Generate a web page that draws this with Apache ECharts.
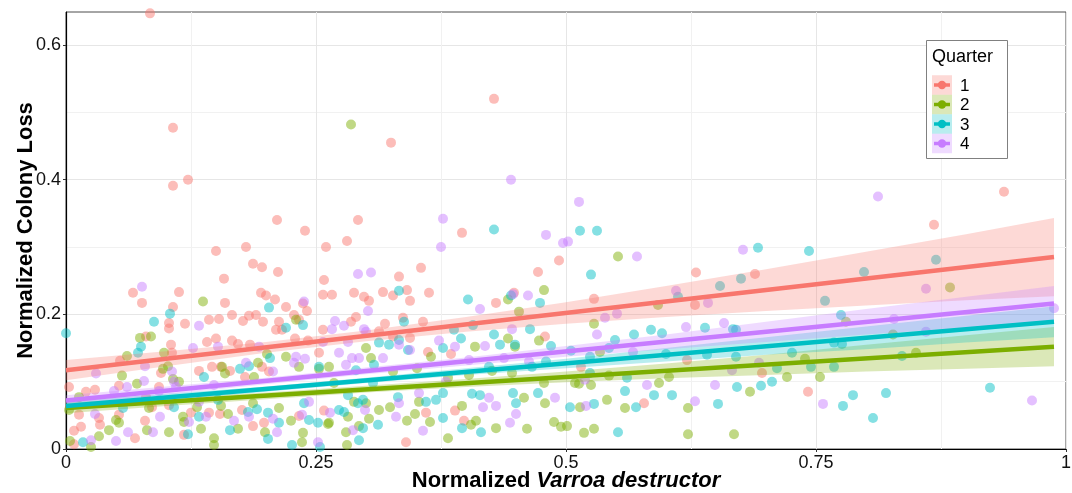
<!DOCTYPE html>
<html><head><meta charset="utf-8">
<script src="https://cdn.jsdelivr.net/npm/echarts@6/dist/echarts.min.js"></script>
<style>html,body{margin:0;padding:0;background:#fff}#c{width:1072px;height:493px}</style>
</head><body><div id="c"></div>
<script>
const quarters = ['1','2','3','4'];
const colors = ['#F8766D','#7CAE00','#00BFC4','#C77CFF'];
const xTicks = [0, 0.25, 0.5, 0.75, 1];
const yTicks = [0, 0.2, 0.4, 0.6];

const q1Points = [[0.084,0.647],[0.107,0.477],[0.107,0.391],[0.122,0.400],[0.211,0.340],[0.239,0.324],[0.292,0.340],[0.325,0.455],[0.428,0.520],[0.938,0.382],[0.868,0.333],[0.689,0.260],[0.630,0.262],[0.528,0.223],[0.629,0.214],[0.621,0.132],[0.578,0.068],[0.742,0.085],[0.696,0.113],[0.515,0.122],
[0.150,0.294],[0.180,0.300],[0.187,0.275],[0.196,0.270],[0.212,0.263],[0.158,0.253],[0.113,0.233],[0.067,0.232],[0.076,0.217],[0.195,0.232],[0.200,0.228],[0.209,0.222],[0.159,0.217],[0.107,0.211],[0.220,0.211],[0.237,0.216],[0.241,0.205],[0.183,0.198],[0.190,0.199],[0.166,0.199],[0.177,0.190],[0.197,0.189],[0.213,0.189],[0.228,0.199],[0.233,0.192],[0.143,0.192],[0.153,0.193],[0.119,0.186],[0.103,0.187],[0.103,0.179],[0.080,0.167],[0.210,0.177],[0.105,0.155],[0.150,0.164],[0.141,0.159],[0.166,0.161],[0.172,0.156],[0.184,0.155],[0.229,0.164],[0.242,0.161],[0.106,0.143],[0.054,0.131],[0.133,0.116],[0.146,0.122],[0.155,0.122],[0.095,0.113],[0.164,0.116],[0.179,0.107],[0.196,0.122],[0.203,0.115],[0.003,0.092],[0.020,0.085],[0.029,0.088],[0.093,0.092],[0.053,0.094],[0.080,0.077],[0.086,0.062],[0.103,0.065],[0.013,0.051],[0.033,0.046],[0.008,0.027],[0.015,0.033],[0.034,0.036],[0.079,0.042],[0.125,0.054],[0.118,0.021],[0.069,0.016],[0.008,0.007],[0.143,0.054],[0.154,0.052],[0.176,0.058],[0.187,0.034],[0.198,0.039],[0.233,0.049],[0.053,0.051],[0.216,0.177],
[0.260,0.300],[0.281,0.309],[0.396,0.321],[0.355,0.269],[0.333,0.256],[0.258,0.251],[0.257,0.229],[0.266,0.229],[0.288,0.232],[0.298,0.226],[0.303,0.220],[0.317,0.233],[0.327,0.228],[0.341,0.236],[0.344,0.220],[0.363,0.232],[0.290,0.196],[0.285,0.189],[0.257,0.177],[0.319,0.186],[0.337,0.195],[0.357,0.189],[0.327,0.167],[0.313,0.175],[0.344,0.165],[0.362,0.144],[0.385,0.141],[0.472,0.263],[0.493,0.280],[0.479,0.167],[0.430,0.217],[0.448,0.232],[0.258,0.057],[0.360,0.054],[0.389,0.057],[0.398,0.042],[0.340,0.010],[0.253,0.143]];

const q2Points = [[0.285,0.482],[0.884,0.240],[0.668,0.022],[0.684,0.085],[0.721,0.107],[0.754,0.107],[0.552,0.286],[0.592,0.214],[0.528,0.186],[0.534,0.144],[0.509,0.098],[0.543,0.109],[0.514,0.062],[0.541,0.073],[0.501,0.034],[0.518,0.024],[0.528,0.030],[0.622,0.022],[0.780,0.189],[0.827,0.170],[0.739,0.134],[0.850,0.143],[0.513,0.097],[0.525,0.095],[0.559,0.061],[0.593,0.098],[0.622,0.061],[0.603,0.107],
[0.137,0.219],[0.074,0.165],[0.085,0.167],[0.061,0.138],[0.098,0.143],[0.056,0.109],[0.071,0.097],[0.097,0.119],[0.107,0.104],[0.113,0.100],[0.102,0.123],[0.156,0.122],[0.159,0.112],[0.188,0.107],[0.192,0.128],[0.201,0.141],[0.220,0.137],[0.230,0.192],[0.050,0.043],[0.043,0.028],[0.033,0.019],[0.053,0.039],[0.004,0.012],[0.025,0.003],[0.081,0.028],[0.103,0.025],[0.117,0.048],[0.135,0.030],[0.148,0.016],[0.148,0.006],[0.172,0.030],[0.162,0.052],[0.199,0.025],[0.225,0.042],[0.236,0.010],[0.155,0.064],[0.187,0.068],[0.213,0.061],[0.131,0.062],[0.003,0.058],[0.013,0.077],[0.083,0.061],[0.118,0.040],[0.237,0.024],[0.233,0.122],
[0.478,0.236],[0.453,0.204],[0.442,0.222],[0.300,0.150],[0.305,0.135],[0.365,0.137],[0.409,0.152],[0.442,0.164],[0.473,0.161],[0.263,0.122],[0.351,0.120],[0.403,0.110],[0.426,0.116],[0.446,0.113],[0.478,0.098],[0.288,0.070],[0.300,0.068],[0.353,0.070],[0.396,0.064],[0.262,0.037],[0.282,0.048],[0.293,0.034],[0.303,0.045],[0.313,0.058],[0.324,0.062],[0.341,0.042],[0.349,0.052],[0.364,0.040],[0.382,0.016],[0.280,0.025],[0.281,0.006],[0.405,0.036],[0.430,0.031],[0.461,0.030],[0.488,0.040],[0.495,0.033],[0.458,0.076],[0.479,0.068],[0.449,0.152],[0.253,0.119],[0.327,0.115],[0.268,0.098],[0.382,0.106],[0.410,0.042],[0.263,0.039]];

const q3Points = [[0.000,0.172],[0.428,0.326],[0.514,0.324],[0.531,0.324],[0.692,0.299],[0.743,0.294],[0.870,0.281],[0.798,0.263],[0.759,0.220],[0.675,0.253],[0.924,0.091],[0.807,0.046],[0.777,0.064],[0.787,0.080],[0.820,0.083],[0.671,0.092],[0.695,0.094],[0.706,0.100],[0.726,0.143],[0.711,0.120],[0.745,0.122],[0.768,0.122],[0.836,0.138],[0.776,0.156],[0.667,0.178],[0.775,0.199],[0.670,0.177],[0.768,0.158],
[0.525,0.259],[0.654,0.242],[0.612,0.226],[0.549,0.162],[0.568,0.170],[0.585,0.177],[0.596,0.172],[0.639,0.180],[0.505,0.146],[0.524,0.137],[0.543,0.150],[0.600,0.141],[0.641,0.140],[0.670,0.137],[0.524,0.113],[0.561,0.106],[0.504,0.062],[0.528,0.067],[0.559,0.086],[0.570,0.062],[0.588,0.080],[0.606,0.080],[0.552,0.025],[0.652,0.067],
[0.088,0.189],[0.104,0.201],[0.203,0.210],[0.237,0.184],[0.220,0.180],[0.075,0.152],[0.072,0.143],[0.138,0.107],[0.183,0.123],[0.204,0.135],[0.057,0.061],[0.017,0.010],[0.133,0.048],[0.122,0.022],[0.164,0.028],[0.182,0.055],[0.191,0.059],[0.202,0.054],[0.213,0.039],[0.202,0.015],[0.226,0.006],[0.243,0.043],[0.152,0.073],[0.108,0.062],[0.238,0.068],[0.174,0.119],
[0.333,0.235],[0.402,0.222],[0.445,0.228],[0.474,0.217],[0.464,0.178],[0.428,0.170],[0.395,0.164],[0.388,0.177],[0.338,0.189],[0.377,0.150],[0.342,0.147],[0.313,0.158],[0.434,0.155],[0.485,0.153],[0.253,0.122],[0.308,0.125],[0.423,0.122],[0.480,0.130],[0.282,0.080],[0.332,0.077],[0.360,0.070],[0.377,0.083],[0.406,0.082],[0.414,0.080],[0.447,0.083],[0.472,0.083],[0.450,0.068],[0.273,0.058],[0.278,0.055],[0.292,0.068],[0.312,0.036],[0.297,0.031],[0.293,0.013],[0.377,0.046],[0.396,0.031],[0.415,0.025],[0.254,0.003],[0.252,0.039],[0.333,0.162],[0.323,0.155],[0.449,0.155],[0.290,0.117],[0.466,0.122],[0.307,0.098],[0.297,0.073],[0.370,0.073],[0.407,0.184]];

const q4Points = [[0.445,0.400],[0.513,0.367],[0.377,0.342],[0.812,0.375],[0.677,0.296],[0.860,0.238],[0.988,0.209],[0.966,0.072],[0.757,0.067],[0.480,0.318],[0.502,0.308],[0.571,0.286],[0.610,0.235],[0.642,0.217],[0.539,0.195],[0.551,0.201],[0.531,0.170],[0.620,0.181],[0.567,0.144],[0.519,0.103],[0.581,0.095],[0.629,0.071],[0.649,0.095],[0.658,0.187],[0.828,0.193],[0.860,0.174],[0.693,0.128],[0.666,0.117],[0.520,0.064],
[0.076,0.241],[0.133,0.183],[0.127,0.150],[0.152,0.152],[0.079,0.123],[0.030,0.112],[0.106,0.115],[0.078,0.101],[0.061,0.092],[0.048,0.086],[0.093,0.086],[0.108,0.100],[0.180,0.128],[0.193,0.152],[0.238,0.219],[0.230,0.137],[0.239,0.134],[0.207,0.115],[0.133,0.070],[0.148,0.095],[0.168,0.042],[0.183,0.048],[0.207,0.045],[0.236,0.051],[0.243,0.070],[0.029,0.052],[0.062,0.025],[0.050,0.012],[0.025,0.013],[0.123,0.040],[0.094,0.048],[0.087,0.025],[0.211,0.025],[0.140,0.048],[0.110,0.092],[0.228,0.128],
[0.375,0.300],[0.292,0.260],[0.305,0.262],[0.302,0.205],[0.269,0.190],[0.266,0.178],[0.278,0.183],[0.298,0.178],[0.257,0.159],[0.282,0.159],[0.273,0.143],[0.286,0.135],[0.293,0.135],[0.317,0.135],[0.333,0.155],[0.373,0.161],[0.389,0.152],[0.403,0.132],[0.414,0.208],[0.419,0.153],[0.447,0.230],[0.462,0.228],[0.446,0.178],[0.438,0.135],[0.463,0.130],[0.489,0.076],[0.430,0.064],[0.417,0.062],[0.450,0.052],[0.444,0.039],[0.357,0.027],[0.330,0.048],[0.353,0.083],[0.264,0.054],[0.299,0.058],[0.287,0.028],[0.252,0.010],[0.497,0.306],[0.300,0.174],[0.280,0.125],[0.344,0.147],[0.423,0.076],[0.333,0.068],[0.380,0.100]];

// fitted lines: [x0, y0, x1, y1]
const fitQ1 = [0, 0.117, 0.988, 0.285];
const fitQ2 = [0, 0.061, 0.988, 0.152];
const fitQ3 = [0, 0.064, 0.988, 0.189];
const fitQ4 = [0, 0.072, 0.988, 0.216];

// confidence bands
const bandX = [0, 0.1, 0.2, 0.3, 0.4, 0.5, 0.6, 0.7, 0.8, 0.9, 0.988];
const bandQ1Hi = [0.132,0.145,0.159,0.176,0.196,0.218,0.242,0.267,0.293,0.319,0.343];
const bandQ1Lo = [0.102,0.123,0.143,0.160,0.174,0.186,0.196,0.205,0.213,0.221,0.227];
const bandQ2Hi = [0.069,0.076,0.084,0.094,0.104,0.115,0.127,0.140,0.155,0.169,0.181];
const bandQ2Lo = [0.053,0.064,0.074,0.084,0.092,0.099,0.105,0.110,0.115,0.119,0.123];
const bandQ3Hi = [0.071,0.082,0.093,0.106,0.120,0.134,0.150,0.166,0.182,0.198,0.212];
const bandQ3Lo = [0.057,0.072,0.085,0.098,0.110,0.120,0.130,0.140,0.148,0.158,0.166];
const bandQ4Hi = [0.080,0.093,0.106,0.121,0.136,0.153,0.170,0.189,0.208,0.226,0.242];
const bandQ4Lo = [0.064,0.081,0.096,0.111,0.124,0.137,0.148,0.159,0.170,0.180,0.190];

const pointSets = [q1Points, q2Points, q3Points, q4Points];
const fits = [fitQ1, fitQ2, fitQ3, fitQ4];
const bandsHi = [bandQ1Hi, bandQ2Hi, bandQ3Hi, bandQ4Hi];
const bandsLo = [bandQ1Lo, bandQ2Lo, bandQ3Lo, bandQ4Lo];

function rgba(hex, a){
  const n = parseInt(hex.slice(1),16);
  return 'rgba('+((n>>16)&255)+','+((n>>8)&255)+','+(n&255)+','+a+')';
}

const FONT = 'Liberation Sans, Arial, sans-serif';
const chart = echarts.init(document.getElementById('c'), null, {renderer:'canvas'});

const series = [];
quarters.forEach((q,i)=>{
  series.push({
    type:'scatter', name:'Quarter '+q, z:2, data: pointSets[i],
    symbol:'circle', symbolSize:10,
    itemStyle:{color: rgba(colors[i],0.6)},
    emphasis:{disabled:true}, animation:false
  });
});
quarters.forEach((q,i)=>{
  series.push({
    type:'custom', name:'band '+q, z:3, data:[[i]], silent:true, animation:false,
    renderItem:function(params, api){
      const g = i;
      const pts = [];
      for (let k=0;k<bandX.length;k++) pts.push(api.coord([bandX[k], bandsHi[g][k]]));
      for (let k=bandX.length-1;k>=0;k--) pts.push(api.coord([bandX[k], bandsLo[g][k]]));
      return {type:'polygon', shape:{points:pts}, style:{fill: rgba(colors[g],0.28)}};
    }
  });
});
quarters.forEach((q,i)=>{
  const f = fits[i];
  series.push({
    type:'line', name:'fit '+q, z:4, data:[[f[0],f[1]],[f[2],f[3]]],
    showSymbol:false, symbol:'none', lineStyle:{color: colors[i], width:4.5},
    silent:true, animation:false
  });
});

const legendItems = [];
const lx = 926, ly = 40;
legendItems.push({type:'rect', z:100, shape:{x:lx+0.5, y:ly+0.5, width:81, height:118}, style:{fill:'#fff', stroke:'#808080', lineWidth:1}});
legendItems.push({type:'text', z:101, x:lx+6, y:ly+17, style:{text:'Quarter', font:'18px '+FONT, fill:'#000', verticalAlign:'middle', align:'left'}});
quarters.forEach((q,i)=>{
  const cy = 85 + i*19.5;
  legendItems.push({type:'rect', z:101, shape:{x:lx+6, y:cy-9.75, width:20, height:19.5}, style:{fill: rgba(colors[i],0.28)}});
  legendItems.push({type:'line', z:102, shape:{x1:lx+8, y1:cy, x2:lx+24, y2:cy}, style:{stroke: colors[i], lineWidth:3.5}});
  legendItems.push({type:'circle', z:103, shape:{cx:lx+16, cy:cy, r:4.2}, style:{fill: colors[i]}});
  legendItems.push({type:'text', z:101, x:lx+34, y:cy+1, style:{text:q, font:'17px '+FONT, fill:'#000', verticalAlign:'middle', align:'left'}});
});

chart.setOption({
  animation:false,
  textStyle:{fontFamily: FONT},
  grid:{left:66, right:6, top:12, bottom:44, show:true, borderColor:'#4d4d4d', borderWidth:1, backgroundColor:'transparent', containLabel:false, outerBoundsMode:'none'},
  xAxis:{
    type:'value', min:0, max:1, interval:0.25,
    name:'{a|Normalized }{b|Varroa destructor}', nameLocation:'middle', nameGap:21, nameMoveOverlap:false,
    nameTextStyle:{rich:{a:{fontSize:22, fontWeight:'bold', color:'#000', fontFamily:FONT}, b:{fontSize:22, fontWeight:'bold', fontStyle:'italic', color:'#000', fontFamily:FONT}}},
    axisLine:{show:true, onZero:false, lineStyle:{color:'#000', width:1.2}},
    axisTick:{show:true, length:3, lineStyle:{color:'#333'}, customValues: xTicks},
    axisLabel:{fontSize:18, color:'#111', margin:5, fontFamily:FONT, customValues: xTicks,
      formatter:function(v){ return String(+(+v).toFixed(2)); }},
    splitLine:{show:true, lineStyle:{color:'#e6e6e6', width:1}},
    minorTick:{show:false, splitNumber:2},
    minorSplitLine:{show:true, lineStyle:{color:'#f1f1f1', width:1}}
  },
  yAxis:{
    type:'value', min:0, max:0.649, interval:0.2,
    name:'Normalized Colony Loss', nameLocation:'middle', nameGap:29, nameRotate:90, nameMoveOverlap:false,
    nameTextStyle:{fontSize:22, fontWeight:'bold', color:'#000', fontFamily:FONT},
    axisLine:{show:true, onZero:false, lineStyle:{color:'#000', width:1.2}},
    axisTick:{show:true, length:3, lineStyle:{color:'#333'}, customValues: yTicks},
    axisLabel:{fontSize:18, color:'#111', margin:5, fontFamily:FONT, customValues: yTicks,
      formatter:function(v){ return String(+(+v).toFixed(2)); }},
    splitLine:{show:true, lineStyle:{color:'#e6e6e6', width:1}},
    minorTick:{show:false, splitNumber:2},
    minorSplitLine:{show:true, lineStyle:{color:'#f1f1f1', width:1}}
  },
  series: series,
  graphic: legendItems
});
</script>
</body></html>
